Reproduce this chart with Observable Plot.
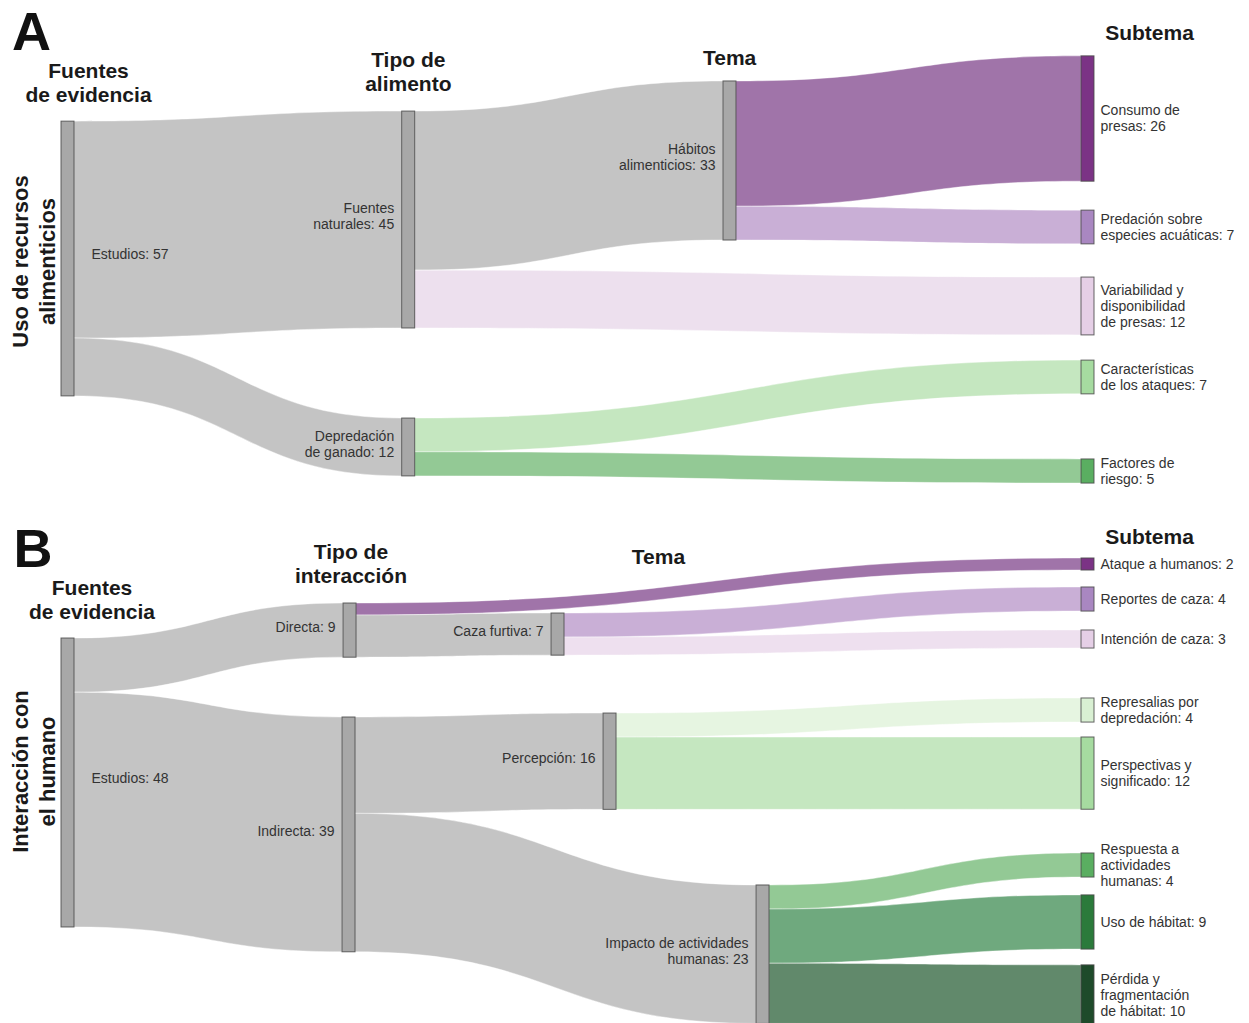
<!DOCTYPE html>
<html>
<head>
<meta charset="utf-8">
<script src="https://cdn.jsdelivr.net/npm/d3@7"></script>
<script src="https://cdn.jsdelivr.net/npm/@observablehq/plot@0.6"></script>
<style>
  html, body { margin: 0; padding: 0; background: #fff; overflow: hidden; }
  #chart { width: 1249px; }
  #chart svg { display: block; overflow: visible; }
</style>
</head>
<body>
<div id="chart"></div>
<script>
// ================= DATA: Panel A =================
const nodesA = ["Estudios", "Fuentes naturales", "Depredación de ganado", "Hábitos alimenticios",
  "Consumo de presas", "Predación sobre especies acuáticas", "Variabilidad y disponibilidad de presas",
  "Características de los ataques", "Factores de riesgo"];
const nodeLabelsA = ["Estudios", "Fuentes\nnaturales", "Depredación\nde ganado", "Hábitos\nalimenticios",
  "Consumo de\npresas", "Predación sobre\nespecies acuáticas", "Variabilidad y\ndisponibilidad\nde presas",
  "Características\nde los ataques", "Factores de\nriesgo"];
const sourcesA = [0, 0, 1, 1, 3, 3, 2, 2];
const targetsA = [1, 2, 3, 6, 4, 5, 7, 8];
const valuesA  = [45, 12, 33, 12, 26, 7, 7, 5];
const headersA = ["Fuentes\nde evidencia", "Tipo de\nalimento", "Tema", "Subtema"];
const letterA = "A";
const titleA = "Uso de recursos\nalimenticios";

// ================= DATA: Panel B =================
const nodesB = ["Estudios", "Directa", "Indirecta", "Caza furtiva", "Percepción",
  "Impacto de actividades humanas", "Ataque a humanos", "Reportes de caza", "Intención de caza",
  "Represalias por depredación", "Perspectivas y significado", "Respuesta a actividades humanas",
  "Uso de hábitat", "Pérdida y fragmentación de hábitat"];
const nodeLabelsB = ["Estudios", "Directa", "Indirecta", "Caza furtiva", "Percepción",
  "Impacto de actividades\nhumanas", "Ataque a humanos", "Reportes de caza", "Intención de caza",
  "Represalias por\ndepredación", "Perspectivas y\nsignificado", "Respuesta a\nactividades\nhumanas",
  "Uso de hábitat", "Pérdida y\nfragmentación\nde hábitat"];
const sourcesB = [0, 0, 1, 1, 3, 3, 2, 2, 4, 4, 5, 5, 5];
const targetsB = [1, 2, 6, 3, 7, 8, 4, 5, 9, 10, 11, 12, 13];
const valuesB  = [9, 39, 2, 7, 4, 3, 16, 23, 4, 12, 4, 9, 10];
const headersB = ["Fuentes\nde evidencia", "Tipo de\ninteracción", "Tema", "Subtema"];
const letterB = "B";
const titleB = "Interacción con\nel humano";

// ================= LAYOUT / STYLE (kept apart from data) =================
const GRAY_NODE = "#a8a8a8", GRAY_LINK = "#c4c4c4";
const layoutA = {
  height: 505, pxPerUnit: 4.82,
  nodeX: [0, 0.334, 0.334, 0.649, 1, 1, 1, 1, 1],
  nodeY: [0.5119, 0.4347, 0.8851, 0.3178, 0.2347, 0.4495, 0.6059, 0.7465, 0.9327],
  nodeFill: [GRAY_NODE, GRAY_NODE, GRAY_NODE, GRAY_NODE, "#7b3385", "#a987c1", "#e5cfe6", "#a6dba0", "#5aae61"],
  linkFill: [GRAY_LINK, GRAY_LINK, GRAY_LINK, GRAY_LINK, "#a074a9", "#c9afd6", "#ede0ee", "#c5e7c0", "#93c995"],
  headerX: [0.0265, 0.340, 0.655, 1.0667],
  headerY: [0.1624, 0.1406, 0.1129, 0.0633],
  letterPos: [-0.0294, 0.0647],
  titlePos: [-0.0284, 0.5168]
};
const layoutB = {
  height: 518, pxPerUnit: 6.02,
  nodeX: [0, 0.2765, 0.2755, 0.4804, 0.5314, 0.6814, 1, 1, 1, 1, 1, 1, 1, 1],
  nodeY: [0.5357, 0.2415, 0.6359, 0.2492, 0.4946, 0.8672, 0.1139, 0.1815, 0.2587, 0.3958, 0.5176, 0.6950, 0.8050, 0.9459],
  nodeFill: [GRAY_NODE, GRAY_NODE, GRAY_NODE, GRAY_NODE, GRAY_NODE, GRAY_NODE,
    "#7b3385", "#a987c1", "#e5cfe6", "#d9f0d3", "#a6dba0", "#5aae61", "#2b7a3b", "#1e4a2a"],
  linkFill: [GRAY_LINK, GRAY_LINK, GRAY_LINK, GRAY_LINK, GRAY_LINK, GRAY_LINK,
    "#a074a9", "#c9afd6", "#eee0ef", "#e6f5e1", "#c5e7c0", "#93c995", "#6fa97e", "#61896b"],
  headerX: [0.0299, 0.2838, 0.5853, 1.0667],
  headerY: [0.1814, 0.1119, 0.0984, 0.0598],
  letterPos: [-0.0279, 0.0863],
  titlePos: [-0.0284, 0.5135]
};
const NODE_W = 13 / 1020;
const FONT = "'Liberation Sans', Arial, Helvetica, sans-serif";

function sankeyPanel(data, L) {
  const H = L.height / L.pxPerUnit;
  const nodes = data.nodes.map((name, i) => ({
    name, i, label: data.labels[i], x: L.nodeX[i], yc: L.nodeY[i] * H,
    fill: L.nodeFill[i], ins: [], outs: [], inSum: 0, outSum: 0
  }));
  const links = data.sources.map((s, k) => ({k, s: nodes[s], t: nodes[data.targets[k]], v: data.values[k]}));
  links.forEach(l => { l.s.outs.push(l); l.t.ins.push(l); l.s.outSum += l.v; l.t.inSum += l.v; });
  nodes.forEach(n => {
    n.value = Math.max(n.inSum, n.outSum);
    n.y0 = n.yc - n.value / 2; n.y1 = n.yc + n.value / 2;
    let o = n.y0;
    n.outs.sort((a, b) => a.t.yc - b.t.yc).forEach(l => { l.sy0 = o; o += l.v; l.sy1 = o; });
    let p = n.y0;
    n.ins.sort((a, b) => a.s.yc - b.s.yc).forEach(l => { l.ty0 = p; p += l.v; l.ty1 = p; });
  });
  const linkPts = links.flatMap(l => [
    {id: l.k, x: l.s.x + NODE_W, top: l.sy0, bot: l.sy1, fill: L.linkFill[l.t.i]},
    {id: l.k, x: l.t.x, top: l.ty0, bot: l.ty1, fill: L.linkFill[l.t.i]}
  ]);
  const first = nodes.filter(n => n.x === 0);
  const middle = nodes.filter(n => n.x > 0 && n.x < 1);
  const last = nodes.filter(n => n.x === 1);
  const lab = n => `${n.label}: ${n.value}`;
  const labelStyle = {fontSize: 14, lineHeight: 1.14, fill: "#333", lineAnchor: "middle"};
  return Plot.plot({
    width: 1249, height: L.height,
    marginLeft: 61, marginRight: 168, marginTop: 0, marginBottom: 0,
    style: {fontFamily: FONT, background: "#fff", overflow: "visible"},
    x: {domain: [0, 1], axis: null},
    y: {domain: [0, H], reverse: true, axis: null},
    color: {type: "identity"},
    marks: [
      Plot.areaY(linkPts, {x: "x", y1: "top", y2: "bot", z: "id", fill: "fill", curve: "bump-x",
        stroke: "#fff", strokeWidth: 0.6, strokeOpacity: 0.7}),
      Plot.rect(nodes, {x1: "x", x2: n => n.x + NODE_W, y1: "y0", y2: "y1", fill: "fill",
        stroke: "#4a4a4a", strokeWidth: 1, strokeOpacity: 0.85}),
      Plot.text(first, {x: n => n.x + NODE_W, y: "yc", text: lab, textAnchor: "start", dx: 17, dy: -5, ...labelStyle}),
      Plot.text(middle, {x: "x", y: "yc", text: lab, textAnchor: "end", dx: -8, dy: -4, ...labelStyle}),
      Plot.text(last, {x: n => n.x + NODE_W, y: "yc", text: lab, textAnchor: "start", dx: 6, dy: -1, ...labelStyle}),
      Plot.text(data.headers, {x: (d, i) => L.headerX[i], y: (d, i) => L.headerY[i] * H, text: d => d,
        fontSize: 21, fontWeight: "bold", lineHeight: 1.14, fill: "#1a1a1a"}),
      Plot.text([data.letter], {x: () => L.letterPos[0], y: () => L.letterPos[1] * H, text: d => d,
        fontSize: 54, fontWeight: "bold", fill: "#111"}),
      Plot.text([data.title], {x: () => L.titlePos[0], y: () => L.titlePos[1] * H, text: d => d,
        rotate: -90, fontSize: 22, fontWeight: "bold", lineHeight: 1.23, fill: "#1a1a1a"})
    ]
  });
}

const chart = document.getElementById("chart");
chart.append(sankeyPanel({nodes: nodesA, labels: nodeLabelsA, sources: sourcesA, targets: targetsA,
  values: valuesA, headers: headersA, letter: letterA, title: titleA}, layoutA));
chart.append(sankeyPanel({nodes: nodesB, labels: nodeLabelsB, sources: sourcesB, targets: targetsB,
  values: valuesB, headers: headersB, letter: letterB, title: titleB}, layoutB));
</script>
</body>
</html>
